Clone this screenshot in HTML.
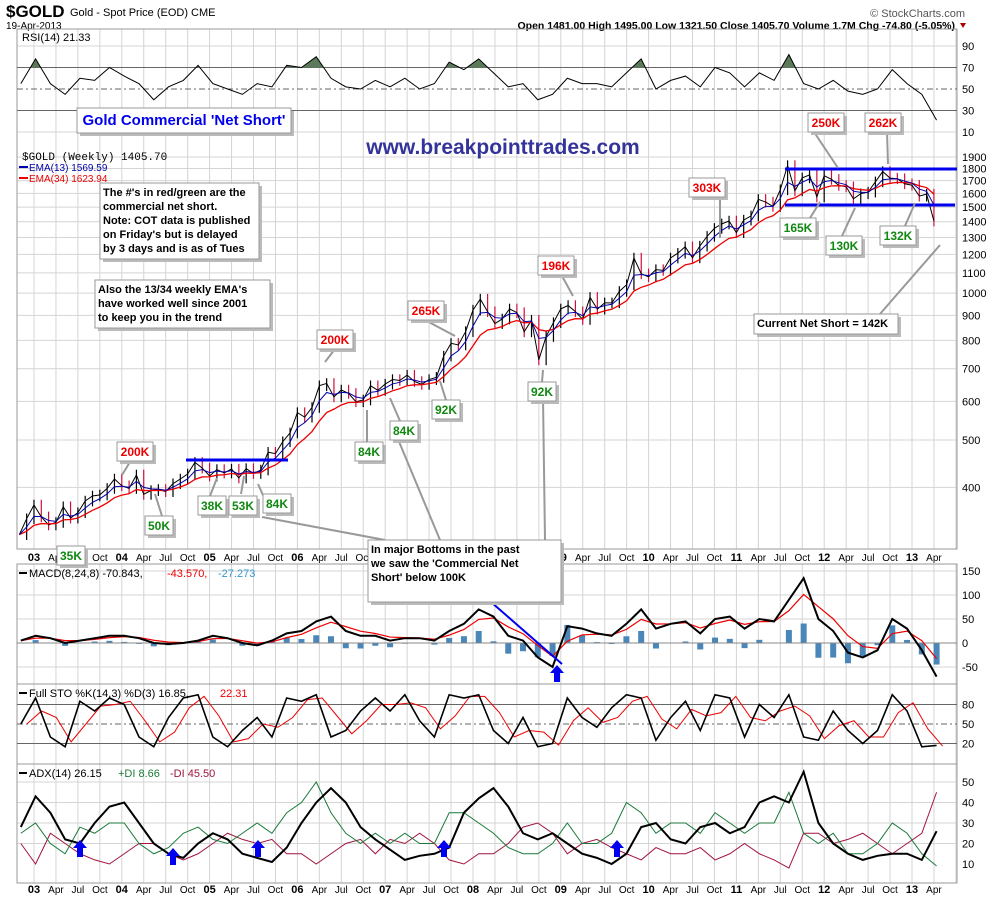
<!DOCTYPE html>
<html><head><meta charset="utf-8"><style>
body{margin:0;background:#fff;}
svg{display:block;font-family:"Liberation Sans",sans-serif;}
</style></head><body>
<svg id="c" width="1000" height="900" xmlns="http://www.w3.org/2000/svg"></svg>
<script>
// ---- data ----
const priceStart = 2002.833; // Nov 2002, monthly
const closes = [320,345,
368,348,335,339,365,346,355,375,384,386,398,416,
403,398,424,387,394,396,392,407,416,426,450,438,
422,435,428,436,418,437,427,434,472,469,496,517,
569,557,583,646,653,613,633,623,599,604,646,632,
651,665,662,679,659,650,665,672,743,789,783,834,
923,972,916,866,885,928,912,833,880,730,815,870,
928,943,916,883,980,927,955,955,1008,1040,1180,1095,
1080,1117,1113,1180,1207,1244,1181,1248,1307,1357,1386,1405,
1330,1411,1439,1556,1536,1505,1628,1825,1620,1722,1746,1574,
1740,1710,1662,1651,1560,1598,1610,1690,1774,1720,1715,1675,
1663,1580,1595,1405];
const indStart = 2002.85, indEnd = 2013.28;
const rsiVals = [55,78,55,45,60,58,70,62,55,40,52,58,72,55,50,45,55,52,72,70,80,60,52,50,58,52,60,50,55,75,68,78,65,52,55,40,45,60,55,55,52,65,78,50,58,62,52,70,65,52,65,58,82,55,50,58,48,45,50,68,55,45,21];
const macdVals = [5,15,10,0,5,10,15,15,10,0,-2,0,5,15,10,0,-5,5,20,25,45,55,25,15,15,5,10,10,5,25,40,70,55,15,5,-30,-50,35,30,20,15,40,70,30,40,45,20,50,55,30,50,45,90,135,50,25,-20,-30,-15,50,30,-15,-70];
const stoK = [50,90,30,15,85,70,90,80,30,15,60,90,95,30,15,40,60,30,90,85,95,30,40,70,90,70,95,55,30,95,90,95,40,20,60,15,20,90,60,45,75,95,90,25,60,85,40,95,90,30,80,60,95,30,25,70,40,20,40,95,70,15,17];
const adxVals = [28,43,35,22,20,30,38,40,30,20,15,13,20,25,22,15,13,11,18,30,40,47,40,28,22,17,12,14,15,18,35,42,47,38,25,22,25,20,15,13,10,15,28,30,22,20,28,30,25,28,40,43,40,55,30,20,15,12,14,15,15,12,26];
const plusDI = [25,30,20,15,28,25,30,30,20,15,18,25,28,22,20,25,30,25,35,40,50,35,25,20,25,20,25,20,20,35,35,30,25,18,15,15,20,30,20,20,25,40,35,25,30,30,25,35,30,25,30,30,45,25,20,25,15,15,20,30,25,15,9];
const minusDI = [20,10,25,20,15,12,10,15,20,20,15,12,15,20,25,22,20,22,15,15,10,15,20,22,15,22,20,25,20,12,10,15,15,20,28,30,25,15,20,22,18,15,12,18,15,15,18,12,15,20,15,12,8,25,25,20,22,25,20,15,20,25,45];
const yearLabels = ['03','04','05','06','07','08','09','10','11','12','13'];
const monthLabels = ['Apr','Jul','Oct'];
const priceTicks = [1900,1800,1700,1600,1500,1400,1300,1200,1100,1000,900,800,700,600,500,400];

// ---- scales ----
const L=17, R=957;
const X = t => 34 + (t-2003)*87.8;
const Yp = p => 157 + Math.log(1900/p)*212;
const Yrsi = v => 89 - (v-50)*1.075;
const Ymacd = v => 643 - v*0.48;
const Ysto = v => 724 - (v-50)*0.65;
const Yadx = v => 864 - (v-10)*2.05;
const NS='http://www.w3.org/2000/svg';
const svg=document.getElementById('c');
function mk(tag,attrs,parent){const e=document.createElementNS(NS,tag);for(const k in attrs)e.setAttribute(k,attrs[k]);(parent||svg).appendChild(e);return e;}
function txt(x,y,s,attrs,parent){const e=mk('text',Object.assign({x:x,y:y},attrs||{}),parent);e.textContent=s;return e;}
const indT = i => indStart + i*(indEnd-indStart)/(rsiVals.length-1);

// ---- header ----
let e;
e=txt(6,17,'$GOLD',{'font-size':17,'font-weight':'bold','font-family':'Liberation Sans Narrow, Liberation Sans, sans-serif'});


e=txt(70,16,'Gold - Spot Price (EOD)  CME',{'font-size':11});


e=txt(6,29,'19-Apr-2013',{'font-size':10});


e=txt(965,17,'© StockCharts.com',{'font-size':11,'text-anchor':'end','fill':'#555'});


e=txt(955,29,'Open 1481.00  High 1495.00  Low 1321.50  Close 1405.70  Volume 1.7M  Chg -74.80 (-5.05%)',{'font-size':10.5,'text-anchor':'end','font-weight':'bold'});


mk('polygon',{points:'960,23 966,23 963,28',fill:'#a00'});

// ---- panels ----
const panels=[[29,549],[564,684],[684,764],[764,883]];
const grid=mk('g',{stroke:'#d4d4d4','stroke-width':1});


for(let y=2003;y<=2013;y++){for(let q=0;q<4;q++){const t=y+q*0.25;const x=X(t);if(x<L||x>R)continue;
  for(const p of panels) mk('line',{x1:x,x2:x,y1:p[0],y2:p[1]},grid);}}
priceTicks.forEach(p=>mk('line',{x1:L,x2:R,y1:Yp(p),y2:Yp(p)},grid));
[90,10].forEach(v=>mk('line',{x1:L,x2:R,y1:Yrsi(v),y2:Yrsi(v)},grid));
[150,100,50,-50].forEach(v=>mk('line',{x1:L,x2:R,y1:Ymacd(v),y2:Ymacd(v)},grid));
[50,40,30,20].forEach(v=>mk('line',{x1:L,x2:R,y1:Yadx(v),y2:Yadx(v)},grid));
panels.forEach((p,i)=>{const r=mk('rect',{x:L,y:p[0],width:R-L,height:p[1]-p[0],fill:'none',stroke:'#999'});
  });

function axisLab(y,s){const t=txt(962,y+4,s,{'font-size':11});}
[90,70,50,30,10].forEach(v=>axisLab(Yrsi(v),String(v)));
priceTicks.forEach(p=>axisLab(Yp(p),String(p)));
[150,100,50,0,-50].forEach(v=>axisLab(Ymacd(v),String(v)));
[80,50,20].forEach(v=>axisLab(Ysto(v),String(v)));
[50,40,30,20,10].forEach(v=>axisLab(Yadx(v),String(v)));

function xLabels(y,name){yearLabels.forEach((yl,i)=>{const yr=2003+i;
  let t=txt(X(yr),y,yl,{'font-size':11,'font-weight':'bold','text-anchor':'middle'});
  monthLabels.forEach((m,j)=>{const x=X(yr+0.25*(j+1));if(x>R-10)return;
   t=txt(x,y,m,{'font-size':10,'text-anchor':'middle'});});});}
xLabels(561,'x-axis-top');xLabels(893,'x-axis-bottom');

// ---- RSI ----
const rsiG=mk('g',{});


[70,30].forEach(v=>mk('line',{x1:L,x2:R,y1:Yrsi(v),y2:Yrsi(v),stroke:'#666'},rsiG));
mk('line',{x1:L,x2:R,y1:Yrsi(50),y2:Yrsi(50),stroke:'#666','stroke-dasharray':'6,3,2,3'},rsiG);
let pts=rsiVals.map((v,i)=>X(indT(i))+','+Yrsi(v)).join(' ');
const clip=mk('clipPath',{id:'ob'},rsiG);mk('rect',{x:L,y:29,width:R-L,height:Yrsi(70)-29},clip);
mk('polygon',{points:X(indT(0))+','+Yrsi(70)+' '+pts+' '+X(indT(rsiVals.length-1))+','+Yrsi(70),fill:'#5a7a5a','clip-path':'url(#ob)'},rsiG);
e=mk('polyline',{points:pts,fill:'none',stroke:'#000','stroke-width':1},rsiG);


e=txt(22,41,'RSI(14) 21.33',{'font-size':11});



// ---- price ----
const pg=mk('g',{});


const pt=i=>priceStart+i/12;
const ema=(n)=>{const a=2/(n+1);let v=closes[0];return closes.map(c=>(v=v+a*(c-v)));};
const e13=ema(3.25), e34=ema(8.5);
closes.forEach((c,i)=>{if(i===0)return;const p=closes[i-1];const x=X(pt(i));
  const hi=Math.max(c,p)*1.025, lo=Math.min(c,p)*0.975;
  const b=mk('line',{x1:x,x2:x,y1:Yp(hi),y2:Yp(lo),stroke:c<p?'#d0103a':'#000','stroke-width':1.2},pg);
  });
e=mk('polyline',{points:closes.map((c,i)=>X(pt(i))+','+Yp(c)).join(' '),fill:'none',stroke:'#000','stroke-width':1},pg);


e=mk('polyline',{points:e34.map((c,i)=>X(pt(i))+','+Yp(c)).join(' '),fill:'none',stroke:'#e00','stroke-width':1.3},pg);


e=mk('polyline',{points:e13.map((c,i)=>X(pt(i))+','+Yp(c)).join(' '),fill:'none',stroke:'#00a','stroke-width':1},pg);


e=txt(22,160,'$GOLD (Weekly) 1405.70',{'font-size':11,'font-family':'Liberation Mono, monospace'});


mk('line',{x1:19,x2:28,y1:167,y2:167,stroke:'#00a','stroke-width':2});
e=txt(29,171,'EMA(13) 1569.59',{'font-size':10,fill:'#00a'});


mk('line',{x1:19,x2:28,y1:178,y2:178,stroke:'#e00','stroke-width':2});
e=txt(29,182,'EMA(34) 1623.94',{'font-size':10,fill:'#e00'});


[[186,288,460],[785,957,169],[785,955,205]].forEach(a=>{const l=mk('line',{x1:a[0],x2:a[1],y1:a[2],y2:a[2],stroke:'#0000ee','stroke-width':3});
  });

// ---- MACD ----
const mg=mk('g',{});


let sig=[],sv=macdVals[0];macdVals.forEach(v=>{sv=sv+0.5*(v-sv);sig.push(sv);});
macdVals.forEach((v,i)=>{const x=X(indT(i));const h=(v-sig[i])*1.2;
  const b=mk('rect',{x:x-3,y:Math.min(Ymacd(0),Ymacd(h)),width:6,height:Math.abs(Ymacd(h)-Ymacd(0)),fill:'#4a86b8'},mg);
  });
mk('line',{x1:L,x2:R,y1:Ymacd(0),y2:Ymacd(0),stroke:'#888'},mg);
e=mk('polyline',{points:sig.map((v,i)=>X(indT(i))+','+Ymacd(v)).join(' '),fill:'none',stroke:'#e00','stroke-width':1.2},mg);


e=mk('polyline',{points:macdVals.map((v,i)=>X(indT(i))+','+Ymacd(v)).join(' '),fill:'none',stroke:'#000','stroke-width':2},mg);


mk('line',{x1:491,x2:562,y1:602,y2:664,stroke:'#00e','stroke-width':2});
e=txt(29,577,'MACD(8,24,8) -70.843, ',{'font-size':11});


txt(167,577,'-43.570,',{'font-size':11,fill:'#e00'});txt(218,577,'-27.273',{'font-size':11,fill:'#3399cc'});
mk('line',{x1:19,x2:27,y1:573,y2:573,stroke:'#000','stroke-width':2});

// ---- STO ----
const sg=mk('g',{});


[80,20].forEach(v=>mk('line',{x1:L,x2:R,y1:Ysto(v),y2:Ysto(v),stroke:'#666'},sg));
mk('line',{x1:L,x2:R,y1:Ysto(50),y2:Ysto(50),stroke:'#666','stroke-dasharray':'6,3,2,3'},sg);
const stoD=stoK.map((v,i)=>i===0?v:(v+stoK[i-1])/2);
const clipS=mk('clipPath',{id:'sc'},sg);mk('rect',{x:L,y:685,width:R-L,height:78},clipS);
e=mk('polyline',{points:stoD.map((v,i)=>(X(indT(i))+6)+','+Ysto(v)).join(' '),fill:'none',stroke:'#e00','stroke-width':1,'clip-path':'url(#sc)'},sg);


e=mk('polyline',{points:stoK.map((v,i)=>X(indT(i))+','+Ysto(v)).join(' '),fill:'none',stroke:'#000','stroke-width':1.6,'clip-path':'url(#sc)'},sg);


e=txt(29,697,'Full STO %K(14,3) %D(3) 16.85, ',{'font-size':11});


txt(220,697,'22.31',{'font-size':11,fill:'#e00'});
mk('line',{x1:19,x2:27,y1:693,y2:693,stroke:'#000','stroke-width':2});

// ---- ADX ----
const ag=mk('g',{});


e=mk('polyline',{points:minusDI.map((v,i)=>X(indT(i))+','+Yadx(v)).join(' '),fill:'none',stroke:'#a0143c','stroke-width':1},ag);


e=mk('polyline',{points:plusDI.map((v,i)=>X(indT(i))+','+Yadx(v)).join(' '),fill:'none',stroke:'#1a7a3a','stroke-width':1},ag);


e=mk('polyline',{points:adxVals.map((v,i)=>X(indT(i))+','+Yadx(v)).join(' '),fill:'none',stroke:'#000','stroke-width':2},ag);


e=txt(29,777,'ADX(14) 26.15 ',{'font-size':11});


txt(118,777,'+DI 8.66',{'font-size':11,fill:'#1a7a3a'});txt(170,777,'-DI 45.50',{'font-size':11,fill:'#a0143c'});
mk('line',{x1:19,x2:27,y1:773,y2:773,stroke:'#000','stroke-width':2});

function arrow(x,y){const a=mk('polygon',{points:`${x},${y} ${x+7},${y+8} ${x+3},${y+8} ${x+3},${y+17} ${x-3},${y+17} ${x-3},${y+8} ${x-7},${y+8}`,fill:'#0000ee'});
  }
[[80,840],[173,848],[258,840],[444,840],[617,840],[557,665]].forEach(p=>arrow(p[0],p[1]));

// ---- annotations ----
function ptr(x1,y1,x2,y2){mk('line',{x1:x1,y1:y1,x2:x2,y2:y2,stroke:'#999','stroke-width':2});}
[[130,462,122,475],[162,516,155,494],[210,496,217,478],[241,494,244,476],[267,504,258,484],[335,349,325,362],
 [367,442,367,410],[400,421,390,398],[446,400,440,381],[425,320,455,336],[551,256,573,296],[542,382,543,370],
 [720,197,720,238],[814,132,838,168],[887,132,888,164],[810,218,820,202],[842,236,855,208],[905,226,915,203],[880,314,940,245],
 [440,540,395,432],[385,540,262,517],[545,540,543,398]].forEach(p=>ptr(...p));
function box(x,y,w,h,lines,color,size,name,anchor){
  const g=mk('g',{});
  mk('rect',{x:x+3,y:y+3,width:w,height:h,fill:'#bbb'},g);
  mk('rect',{x:x,y:y,width:w,height:h,fill:'#fff',stroke:'#999'},g);
  lines.forEach((s,i)=>txt(anchor?x+w/2:x+3,y+size+2+i*(size+3),s,{'font-size':size,'font-weight':'bold',fill:color,'text-anchor':anchor?'middle':'start'},g));}
box(77,108,214,25,["Gold Commercial 'Net Short'"],'#0000ee',15,'title-annotation',true);
box(100,183,159,76,["The #'s in red/green are the","commercial net short.","Note: COT data is published","on Friday's but is delayed","by 3 days and is as of Tues"],'#000',11,'note-box');
box(95,280,175,48,["Also the 13/34 weekly EMA's","have worked well since 2001","to keep you in the trend"],'#000',11,'ema-note-box');
box(368,540,193,62,["In major Bottoms in the past","we saw the 'Commercial Net","Short' below 100K"],'#000',11,'bottoms-note-box');
box(754,314,144,20,["Current Net Short = 142K"],'#000',11,'current-net-short-box');
const reds=[[117,442,'200K'],[317,330,'200K'],[408,301,'265K'],[538,256,'196K'],[689,178,'303K'],[808,113,'250K'],[865,113,'262K']];
const greens=[[57,546,'35K'],[145,516,'50K'],[198,496,'38K'],[229,496,'53K'],[263,494,'84K'],[355,442,'84K'],[390,421,'84K'],[432,400,'92K'],[528,382,'92K'],[780,218,'165K'],[826,236,'130K'],[880,226,'132K']];
reds.forEach(r=>box(r[0],r[1],r[2].length*8+4,19,[r[2]],'#ee0000',12,'net-short-label-red',true));
greens.forEach(r=>box(r[0],r[1],r[2].length*8+4,19,[r[2]],'#118811',12,'net-short-label-green',true));
e=txt(503,154,'www.breakpointtrades.com',{'font-size':21,'font-weight':'bold',fill:'#333399','text-anchor':'middle'});


</script>
</body></html>
